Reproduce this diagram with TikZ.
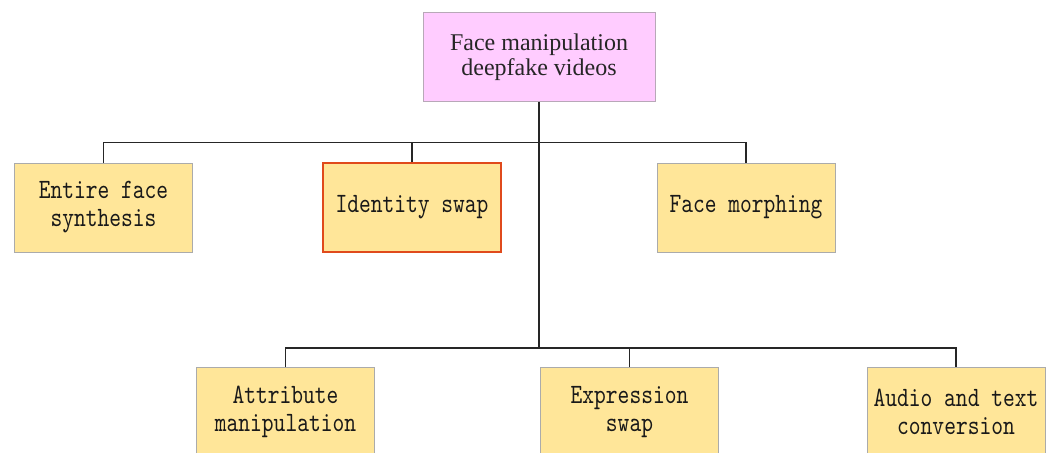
\documentclass[tikz,border=0pt]{standalone}
\usepackage{fontspec}
\setmainfont{Liberation Serif}
\newfontfamily\boxfont{lmmono10-regular.otf}[FakeStretch=0.8]
\definecolor{rootfill}{HTML}{FFCCFF}
\definecolor{rootline}{HTML}{B8A8B8}
\definecolor{leaffill}{HTML}{FFE699}
\definecolor{leafline}{HTML}{ABABAB}
\definecolor{hiline}{HTML}{E04A1C}
\definecolor{wire}{HTML}{262626}
\tikzset{
  rootbox/.style={draw=rootline, fill=rootfill, line width=1pt,
    minimum width=232pt, minimum height=88pt, inner sep=0pt, align=center,
    font=\fontsize{24}{25}\selectfont, text=black!85},
  leafbox/.style={draw=leafline, fill=leaffill, line width=1pt,
    minimum width=178pt, minimum height=89pt, inner sep=0pt, align=center,
    font=\boxfont\fontsize{28}{28}\selectfont, text=black!90},
  hibox/.style={leafbox, draw=hiline, line width=2pt},
  wireline/.style={draw=wire, line width=1.5pt}
}
\begin{document}
\begin{tikzpicture}[x=1pt,y=-1pt]
\useasboundingbox[fill=white] (0,0) rectangle (1051,452);
% root
\node[rootbox] (root) at (539,57) {Face manipulation\\deepfake videos};
% first row
\node[leafbox] (entire) at (103.5,207.5) {Entire face\\synthesis};
\node[hibox]   (ident)  at (412,207.5) {Identity swap};
\node[leafbox] (morph)  at (746,207.5) {Face morphing};
% second row
\node[leafbox] (attr)  at (285.5,412) {Attribute\\manipulation};
\node[leafbox] (expr)  at (629.5,412) {Expression\\swap};
\node[leafbox] (audio) at (956,412) {Audio and text\\conversion};
% bus junctions
\coordinate (busA) at (539,142.5);
\coordinate (busB) at (539,348);
% connectors
\draw[wireline] (root.south) -- (busB);
\draw[wireline] (entire.north) |- (busA) -| (morph.north);
\draw[wireline] (ident.north) -- (ident.north |- busA);
\draw[wireline] (attr.north) |- (busB) -| (audio.north);
\draw[wireline] (expr.north) -- (expr.north |- busB);
\end{tikzpicture}
\end{document}
